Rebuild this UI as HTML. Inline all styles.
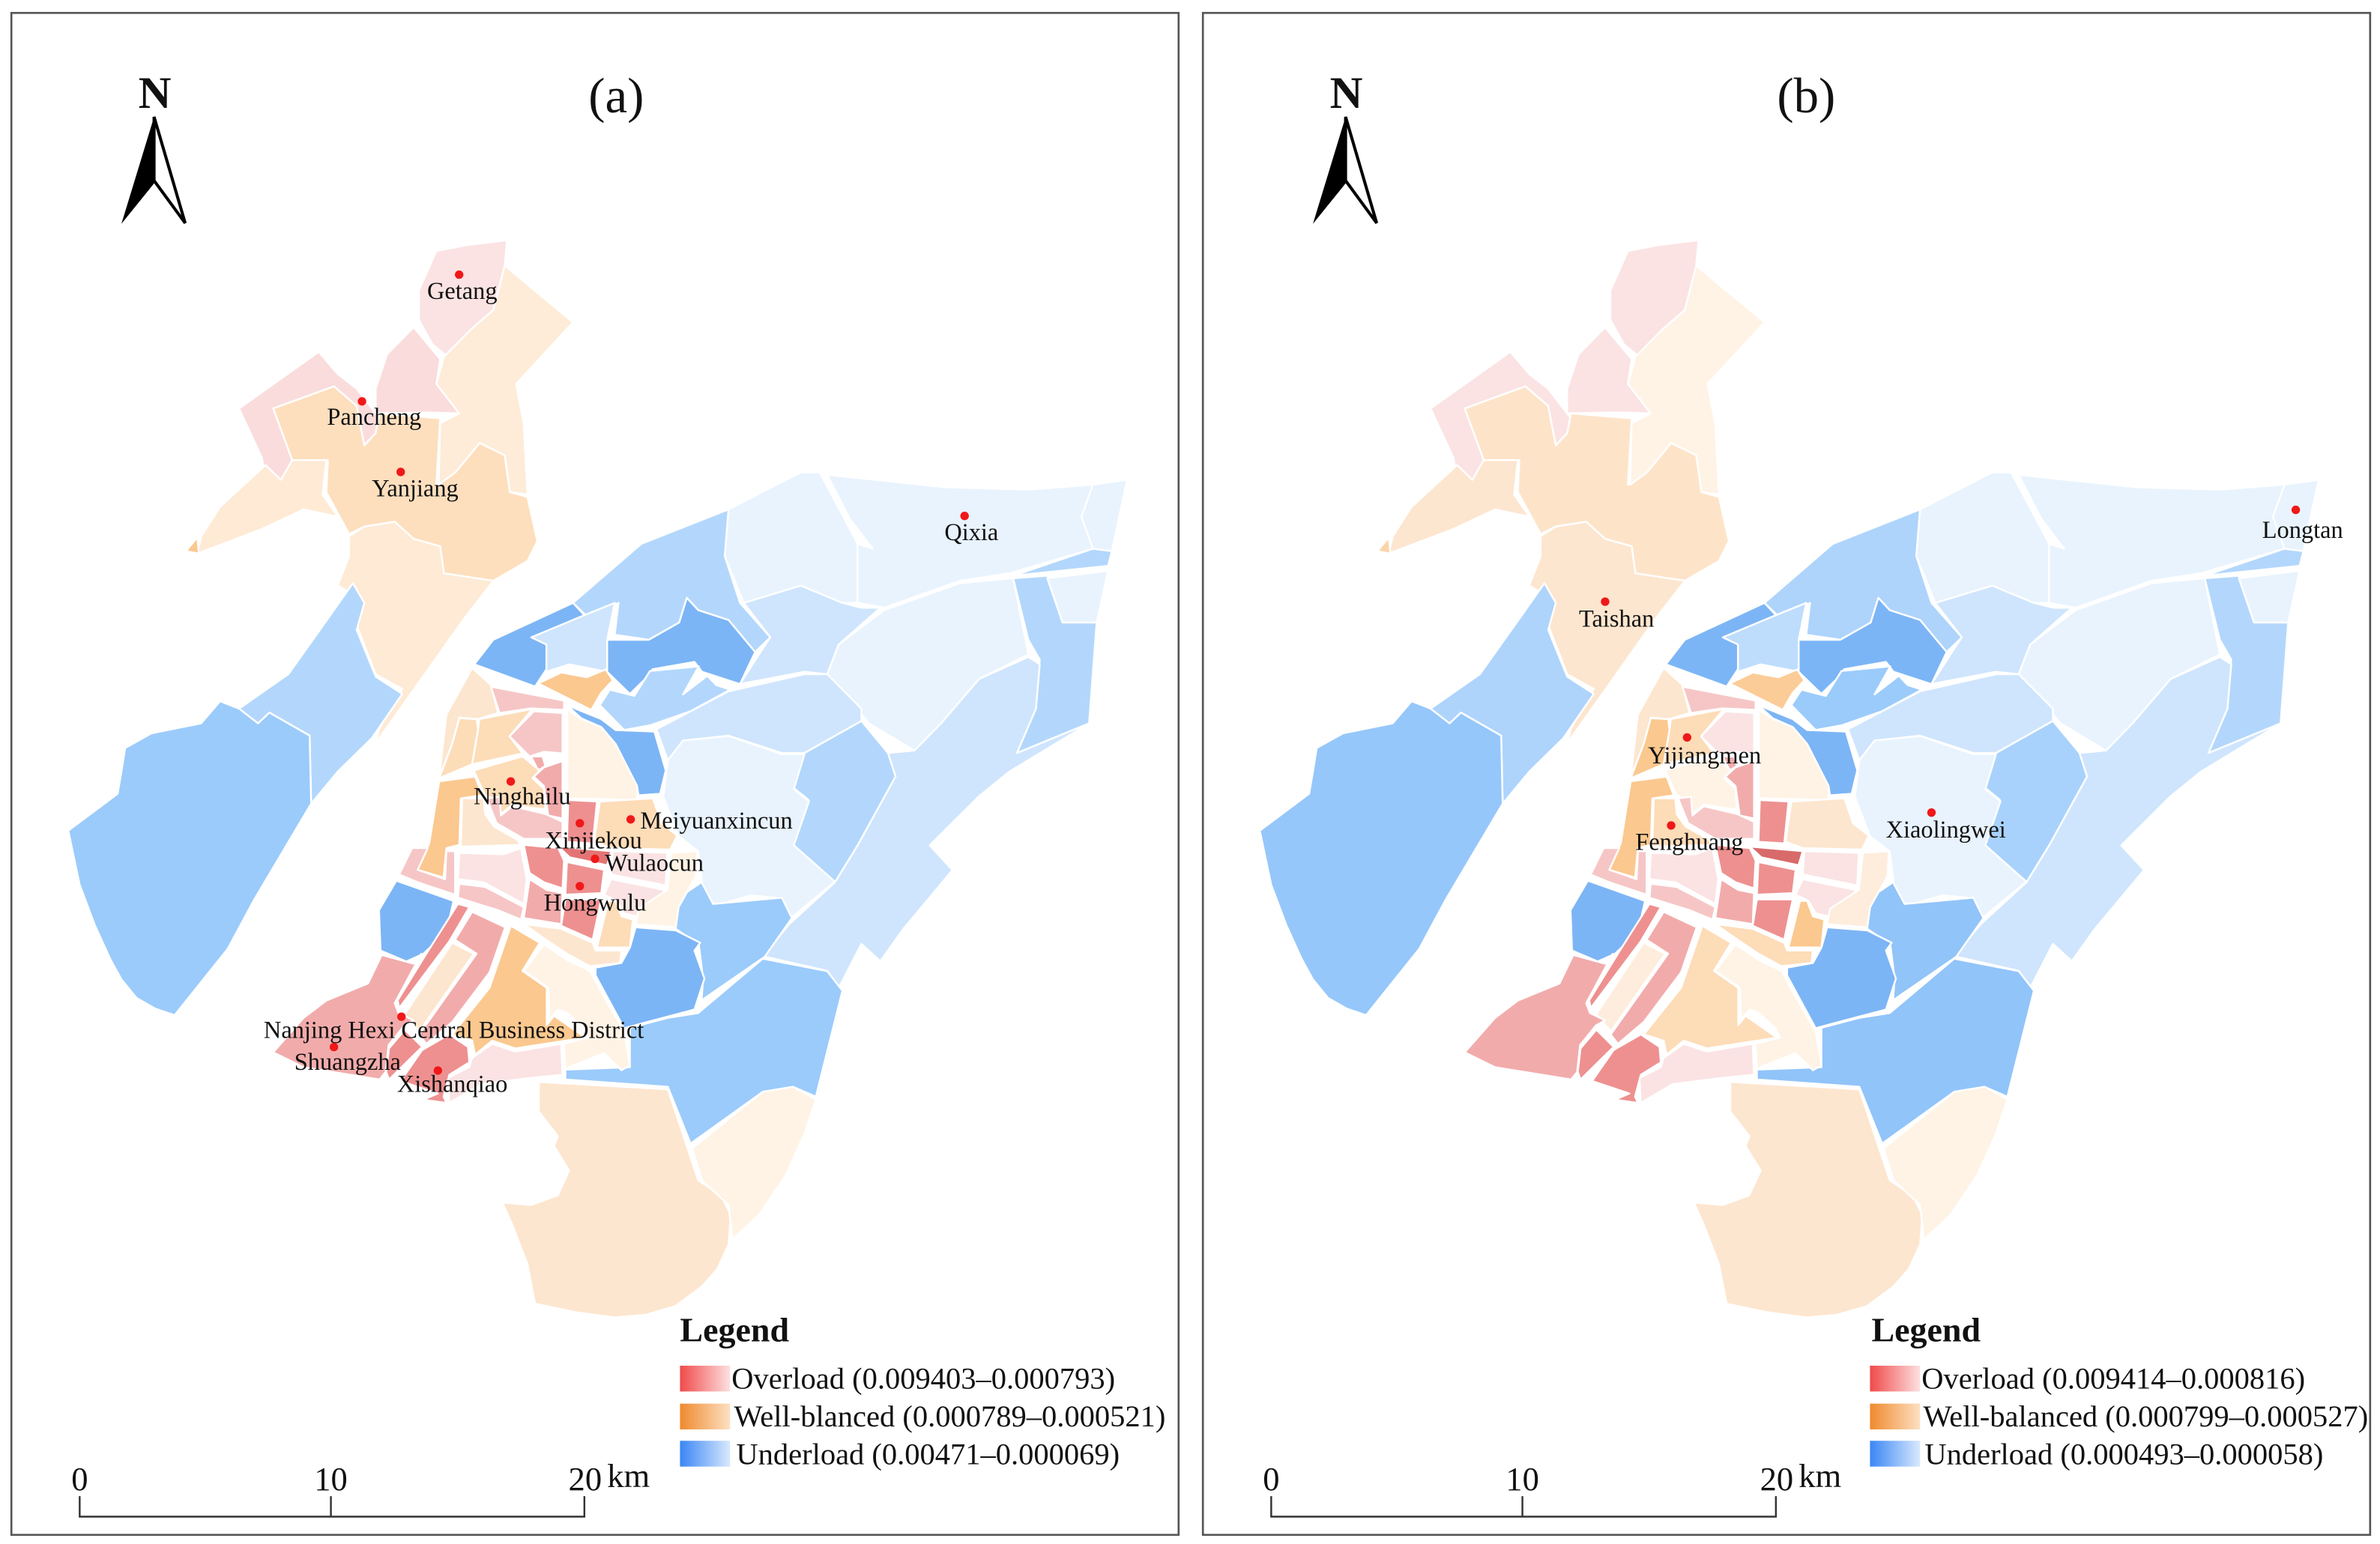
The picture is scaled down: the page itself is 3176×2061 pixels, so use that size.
<!DOCTYPE html>
<html lang="en">
<head>
<meta charset="utf-8">
<title>Load balance maps (a) and (b)</title>
<style>
html,body{margin:0;padding:0;background:#fff;width:3176px;height:2061px;overflow:hidden}
svg{display:block}
text{font-family:"Liberation Serif","DejaVu Serif",serif;fill:#111}
.leg{font-size:20px}
.scale{font-size:22px}
</style>
</head>
<body>
<svg xmlns="http://www.w3.org/2000/svg" width="3176" height="2061" viewBox="0 0 1568 1017.5">
<defs>
<linearGradient id="gr"><stop offset="0" stop-color="#f04a4a"/><stop offset="1" stop-color="#fde0e0"/></linearGradient>
<linearGradient id="go"><stop offset="0" stop-color="#ef8a2e"/><stop offset="1" stop-color="#fde0c2"/></linearGradient>
<linearGradient id="gb"><stop offset="0" stop-color="#3a86f5"/><stop offset="1" stop-color="#d8e9fd"/></linearGradient>
</defs>
<rect x="7.5" y="8.5" width="769" height="1003" fill="none" stroke="#555" stroke-width="1.3"/>
<rect x="792.5" y="8.5" width="769" height="1003" fill="none" stroke="#555" stroke-width="1.3"/>

<g id="map-a"></g>
<g id="map-b" transform="translate(785,0)"></g>

<!-- Panel A furniture -->
<g>
<text x="406" y="74" text-anchor="middle" font-size="33">(a)</text>
<g>
<text x="102" y="71" text-anchor="middle" font-size="30" font-weight="bold">N</text>
<polygon points="101.5,77 80,147.5 103,119" fill="#000"/>
<polygon points="101.5,77 122,147 101.5,119" fill="#fff" stroke="#000" stroke-width="2"/>
</g>
<g font-size="16" text-anchor="middle">
<g fill="#f01818" stroke="none">
<circle cx="302.5" cy="181" r="2.8"/>
<circle cx="238.5" cy="264.5" r="2.8"/>
<circle cx="264" cy="311" r="2.8"/>
<circle cx="635.5" cy="340" r="2.8"/>
<circle cx="336.5" cy="515" r="2.8"/>
<circle cx="415.5" cy="540" r="2.8"/>
<circle cx="382" cy="542.5" r="2.8"/>
<circle cx="392" cy="566" r="2.8"/>
<circle cx="382" cy="584" r="2.8"/>
<circle cx="264.5" cy="670" r="2.8"/>
<circle cx="220" cy="690" r="2.8"/>
<circle cx="288.5" cy="705.5" r="2.8"/>
</g>
<text x="304.5" y="197">Getang</text>
<text x="246.5" y="280">Pancheng</text>
<text x="273.5" y="327">Yanjiang</text>
<text x="640" y="356">Qixia</text>
<text x="344" y="530">Ninghailu</text>
<text x="472" y="546">Meiyuanxincun</text>
<text x="391" y="559">Xinjiekou</text>
<text x="431" y="574">Wulaocun</text>
<text x="392" y="600">Hongwulu</text>
<text x="299" y="684">Nanjing Hexi Central Business District</text>
<text x="229" y="705">Shuangzha</text>
<text x="298" y="719.5">Xishanqiao</text>
</g>
<g>
<text x="448" y="884" font-size="22.7" font-weight="bold">Legend</text>
<rect x="448" y="900" width="33" height="17" fill="url(#gr)"/>
<rect x="448" y="925" width="33" height="17" fill="url(#go)"/>
<rect x="448" y="949.5" width="33" height="17" fill="url(#gb)"/>
<text class="leg" x="482" y="915">Overload (0.009403–0.000793)</text>
<text class="leg" x="483.5" y="940">Well-blanced (0.000789–0.000521)</text>
<text class="leg" x="485" y="965">Underload (0.00471–0.000069)</text>
</g>
<g>
<polyline points="52.5,986 52.5,999.5 385,999.5 385,986" fill="none" stroke="#333" stroke-width="1.2"/>
<line x1="218" y1="986" x2="218" y2="999.5" stroke="#333" stroke-width="1.2"/>
<text class="scale" x="52.5" y="982" text-anchor="middle">0</text>
<text class="scale" x="218" y="982" text-anchor="middle">10</text>
<text class="scale" x="385.5" y="982" text-anchor="middle">20</text>
<text class="scale" x="400" y="980">km</text>
</g>
</g>

<!-- Panel B furniture -->
<g>
<text x="1190" y="74" text-anchor="middle" font-size="33">(b)</text>
<g transform="translate(785,0)">
<text x="102" y="71" text-anchor="middle" font-size="30" font-weight="bold">N</text>
<polygon points="101.5,77 80,147.5 103,119" fill="#000"/>
<polygon points="101.5,77 122,147 101.5,119" fill="#fff" stroke="#000" stroke-width="2"/>
</g>
<g font-size="16" text-anchor="middle">
<g fill="#f01818">
<circle cx="1512.5" cy="336" r="2.8"/>
<circle cx="1057.5" cy="396.5" r="2.8"/>
<circle cx="1111.5" cy="486" r="2.8"/>
<circle cx="1101" cy="544" r="2.8"/>
<circle cx="1272.5" cy="535.5" r="2.8"/>
</g>
<text x="1517" y="354.5">Longtan</text>
<text x="1065" y="413">Taishan</text>
<text x="1123" y="503">Yijiangmen</text>
<text x="1113" y="560">Fenghuang</text>
<text x="1282" y="552">Xiaolingwei</text>
</g>
<g>
<text x="1233" y="884" font-size="22.7" font-weight="bold">Legend</text>
<rect x="1232" y="900" width="33" height="17" fill="url(#gr)"/>
<rect x="1232" y="925" width="33" height="17" fill="url(#go)"/>
<rect x="1232" y="949.5" width="33" height="17" fill="url(#gb)"/>
<text class="leg" x="1266" y="915">Overload (0.009414–0.000816)</text>
<text class="leg" x="1267" y="940">Well-balanced (0.000799–0.000527)</text>
<text class="leg" x="1268" y="965">Underload (0.000493–0.000058)</text>
</g>
<g transform="translate(785,0)">
<polyline points="52.5,986 52.5,999.5 385,999.5 385,986" fill="none" stroke="#333" stroke-width="1.2"/>
<line x1="218" y1="986" x2="218" y2="999.5" stroke="#333" stroke-width="1.2"/>
<text class="scale" x="52.5" y="982" text-anchor="middle">0</text>
<text class="scale" x="218" y="982" text-anchor="middle">10</text>
<text class="scale" x="385.5" y="982" text-anchor="middle">20</text>
<text class="scale" x="400" y="980">km</text>
</g>
</g>
</svg>

<script>
// Region identifiers, in drawing order.
const regionNames = [
"getang","north-central","pancheng-strip","yanjiang","north-east","north-west","north-tip","taishan-south",
"west-strip","west-bank","north-blue","dark-basin","river-dark","small-blue","north-orange","below-basin",
"middle-blue","top-light","qixia","thin-strip","east-column","east-tiny","east-light","east-long",
"east-inner","north-xiaoling","xiaolingwei","river-strip","south-mid-blue","south-dark-blue","south-big-blue",
"south-big-orange","south-side-orange",
"c-nw","c-pink-top","c-narrow","c-yijiangmen","c-upper-pink","c-small-red","c-small-red-2","c-ninghailu","c-sw",
"c-fenghuang","c-pink-mid","c-north-centre","c-xinjiekou","c-meiyuan","c-wedge","c-west-red","c-pale",
"c-pink-left","c-pink-band","c-blue-west","c-red-a","c-red-b","c-red-c","c-pale-e1","c-pale-e2","c-east",
"c-small-orange","c-thin-orange","c-big-orange","c-light-south","c-pale-south","c-diag-red","c-diag-inner","c-diag-wide",
"shuangzha","s-lower","xishanqiao","longtan-east"
];

// Estimated load per region: panel (a).
const valuesA = [
.0008,.0009,.0009,.00066,.00057,.00058,.00078,.00058,
.00022,.00013,.00022,.00007,.00007,.00032,.00078,.00022,
.00032,.00047,.00047,.00022,.00022,.00047,.00047,.00032,
.00022,.00032,.00047,.00007,.00013,.00007,.00013,
.0006,.00053,
.0006,.0012,.00068,.00068,.0012,.002,.002,.00068,.00078,
.0006,.0012,.00053,.0035,.00068,.006,.0035,.0008,
.0012,.0012,.00007,.002,.0035,.0035,.0008,.0008,.00053,
.00068,.0006,.00078,.00053,.0008,.0035,.0006,.002,
.002,.0035,.0035,.00047
];

// Estimated load per region: panel (b).
const valuesB = [
.0008,.0008,.0008,.00062,.00053,.0006,.00072,.0006,
.0002,.00012,.0002,.00007,.00007,.00026,.00076,.00013,
.00032,.00047,.00047,.00022,.00022,.00047,.00047,.00032,
.00018,.00032,.00047,.00007,.00011,.00007,.00011,
.0006,.00053,
.0006,.0012,.00078,.00068,.0008,.002,.002,.00053,.00078,
.00068,.0012,.00053,.0035,.0006,.0094,.0035,.0008,
.0012,.0012,.00007,.002,.0035,.0035,.0008,.0008,.00056,
.00078,.00068,.00068,.00053,.0008,.0035,.00056,.002,
.002,.0035,.0035,.00047
];

// Geometry: [frame, points]. Frames are tracing grids (see frames below).
const regionShapes = [
["a","575,510 615,498 668,488 665,540 650,630 620,670 590,725 570,700 552,650 552,590"],
["a","545,665 580,730 575,780 605,840 560,838 495,840 495,790 510,720"],
["a","315,830 420,715 445,760 470,790 500,850 495,880 480,905 470,860 440,785 360,830 390,930 370,975 350,970 345,930"],
["a","440,785 470,825 480,905 495,880 500,840 580,850 575,985 600,960 632,900 665,925 672,1000 695,1010 708,1100 695,1140 650,1180 580,1165 580,1110 545,1095 520,1060 480,1070 460,1085 430,1000 432,935 385,935 360,830"],
["a","665,540 755,655 680,780 690,860 695,1005 672,1000 665,925 632,900 600,960 578,985 580,860 605,840 575,780 585,725 620,670 650,630"],
["a","350,945 370,975 385,935 430,935 425,1005 445,1050 400,1035 345,1075 260,1125 265,1090 290,1030"],
["a","245,1120 260,1092 262,1125"],
["a","460,1090 480,1070 520,1060 545,1095 580,1110 585,1165 650,1180 610,1260 555,1380 495,1510 500,1480 530,1400 495,1370 470,1270 478,1220 445,1190 460,1130"],

["a","465,1185 480,1225 470,1280 495,1375 530,1410 490,1500 445,1568 410,1633 408,1495 355,1448 340,1470 315,1440 380,1370 440,1240"],
["a","160,1568 165,1520 200,1490 265,1470 290,1425 315,1440 340,1470 355,1448 408,1495 410,1633 335,1828 300,1928 230,2063 205,2050 180,2028 160,1990 145,1948 125,1880 105,1798 90,1688 155,1613"],
["a","755,1225 845,1105 960,1035 955,1130 975,1225 1015,1295 995,1325 960,1260 920,1240 905,1215 895,1265 855,1300 810,1290 815,1225 775,1255"],
["a","905,1215 920,1240 960,1260 995,1325 975,1390 925,1365 915,1345 860,1360 850,1380 830,1410 800,1365 800,1300 855,1300 895,1265"],
["a","755,1225 770,1250 720,1310 720,1360 705,1395 625,1350 650,1300"],
["a","770,1250 810,1225 800,1300 800,1365 750,1350 720,1365 720,1310 700,1295"],
["c","570,150 650,115 740,130 805,105 830,140 790,180 755,235"],
["c","785,220 820,170 905,190 960,110 1130,95 1075,185 1160,125 1190,155 1240,170 1100,240 960,285 870,300"],
["a","980,1225 1055,1190 1110,1225 1135,1235 1160,1235 1105,1310 1090,1370 1060,1365 975,1390 1000,1330 1015,1295"],
["a","960,1035 1055,960 1080,960 1130,1105 1130,1225 1110,1225 1055,1190 980,1225 955,1130"],
["a","1090,965 1245,990 1355,995 1440,985 1440,1115 1330,1165 1265,1180 1165,1235 1130,1225 1130,1105 1150,1115 1120,1055"],
["a","1440,1115 1465,1120 1460,1150 1335,1170"],
["a","1335,1175 1380,1170 1400,1265 1445,1265 1435,1470 1340,1530 1365,1440 1370,1340 1355,1300"],
["a","1380,1175 1460,1160 1445,1265 1400,1265"],
["a","1265,1185 1335,1175 1355,1330 1290,1380 1240,1470 1205,1525 1145,1470 1090,1370 1105,1310 1165,1240"],
["a","1205,1525 1240,1470 1290,1380 1355,1335 1370,1350 1365,1440 1340,1530 1435,1470 1330,1568 1290,1618 1225,1718 1255,1768 1190,1888 1160,1953 1135,1918 1105,2008 1090,1973 1005,1943 1040,1878 1100,1793 1130,1718 1180,1578 1170,1530"],
["a","1135,1465 1170,1530 1180,1578 1130,1718 1100,1793 1045,1718 1065,1625 1045,1600 1060,1530"],
["a","865,1482 960,1405 1060,1370 1090,1370 1135,1440 1135,1465 1060,1530 1030,1530 960,1495 900,1505 880,1545"],
["o","440,501 450,488 480,485 515,497 530,497 523,520 533,528 523,557 550,581 521,605 515,592 495,590 470,597 463,585 460,561 447,551 437,525"],
["c","670,220 790,265 840,300 975,305 1015,430 995,505 920,510 915,480 840,345 790,290 720,262"],
["c","1060,840 1140,790 1180,860 1420,840 1455,905 1360,1030 1140,1170 1145,1100 1130,990 1050,940"],
["c","910,935 1050,945 1135,985 1115,1010 1150,1100 1115,1200 950,1240 870,1260 770,1090 770,1065 860,1050 890,1000"],
["b","1005,380 1090,405 1110,445 1075,660 1045,640 1005,650 910,755 880,640 745,625 745,605 830,600 830,520 880,500 920,490"],
["b","710,630 880,645 920,830 950,860 963,900 960,960 945,1010 925,1045 890,1085 850,1103 810,1108 760,1098 705,1080 695,1000 675,920 662,875 700,880 735,860 750,810 730,760 735,740 710,690"],
["b","1075,665 1045,640 1005,650 912,765 925,830 960,880 965,950 1000,900 1035,820 1060,735"],

["c","340,100 405,155 430,245 360,265 295,260 270,345 225,450 250,250"],
["c","405,160 660,205 660,235 545,230 435,245"],
["c","295,262 355,265 360,300 340,410 225,455 270,345"],
["c","365,265 550,232 470,320 515,375 340,410 360,300"],
["c","555,240 655,245 655,375 590,370 540,385 470,320"],
["c","555,450 590,420 655,400 655,585 605,575 590,480"],
["c","545,385 585,385 595,415 570,430"],
["c","345,430 515,385 575,430 550,455 590,490 595,555 545,550 480,540 440,570 430,530 385,510"],
["c","225,465 350,450 375,510 300,520 295,670 250,680 240,775 150,750 190,665"],
["c","305,520 380,520 385,570 415,610 500,655 505,670 300,675"],
["c","390,520 435,515 440,575 480,545 595,570 655,595 655,650 520,650 425,600"],
["c","672,235 720,265 790,290 840,345 915,480 915,525 672,520"],
["c","675,525 775,530 760,665 670,660"],
["c","785,530 970,520 1000,600 1055,640 1030,685 825,680 765,660"],
["c","640,675 825,690 810,735 680,710"],
["c","520,670 640,680 660,720 655,810 590,790 540,760"],
["c","295,695 450,700 510,680 530,780 520,860 460,830 380,790 290,780"],
["c","130,680 185,680 150,750 245,780 250,690 280,690 280,830 150,790 85,765"],
["c","295,795 385,805 520,870 510,910 430,880 290,840"],
["c","75,785 275,850 250,950 170,1020 110,1045 20,1010 15,880"],
["c","540,780 600,815 655,825 650,925 520,905"],
["c","670,725 800,750 790,825 665,830"],
["c","665,845 790,845 760,975 650,930"],
["c","830,690 1020,695 1015,800 825,765"],
["c","825,780 1010,815 1000,830 915,900 870,890 845,850 800,830"],
["c","1035,695 1125,690 1120,770 1060,870 1050,935 910,925 920,875 1020,815"],
["c","815,850 840,850 860,900 900,910 890,1000 775,1000"],
["c","520,925 650,940 760,985 770,1010 860,1010 855,1050 750,1060 670,1020 590,970"],
["c","475,930 575,985 515,1075 600,1130 600,1250 625,1220 735,1290 490,1325 410,1300 350,1345 340,1300 270,1280 400,1130"],
["c","590,990 670,1040 750,1075 800,1160 870,1270 890,1380 860,1395 800,1340 665,1390 660,1310 745,1290 730,1260 670,1210 640,1200 610,1230 605,1130 520,1075"],
["c","340,1355 410,1310 490,1335 650,1310 655,1410 540,1420 370,1440 260,1500 255,1420 330,1385"],
["c","290,860 330,870 260,980 85,1195 80,1170 180,1020"],
["c","270,985 345,1020 155,1270 105,1215"],
["c","340,885 455,935 400,1080 270,1240 180,1310 155,1280 355,1020 280,975"],
["b","360,570 400,500 430,465 485,430 503,372 545,390 555,370 520,470 525,490 545,505 533,515 512,555 508,610 500,625 400,600"],
["c","105,1265 165,1320 50,1425 40,1400 50,1325"],
["c","260,1280 325,1320 330,1370 260,1410 240,1480 250,1500 170,1490 220,1470 90,1430 165,1330"],
["a","1440,985 1485,975 1465,1120 1440,1115 1425,1050"]
];

// Tracing grids mapped to the figure's coordinate system.
const frames = {
  a: function (x, y) { return [x * 0.5, y * 0.3243]; },
  b: function (x, y) { return [x * 0.5, 508.5 + y * 0.3246]; },
  c: function (x, y) { return [246.9 + x * 0.1889, 419.7 + y * 0.2047]; },
  o: function (x, y) { return [x, y]; }
};

// Colour scale: load value to fill.
const scaleStops = [
  [.00007, [124,181,245]], [.00013, [155,203,251]], [.00022, [179,215,252]], [.00032, [207,229,253]], [.00047, [232,243,254]],
  [.00053, [255,243,229]], [.0006, [253,230,207]], [.00068, [253,220,184]], [.00078, [251,200,143]],
  [.0008, [251,227,227]], [.0012, [246,198,198]], [.002, [242,171,171]], [.0035, [238,144,144]], [.006, [228,116,116]], [.0094, [216,106,106]]
];

function loadColor(v) {
  if (v <= scaleStops[0][0]) return 'rgb(' + scaleStops[0][1].join(',') + ')';
  for (let i = 1; i < scaleStops.length; i++) {
    if (v <= scaleStops[i][0]) {
      const lo = scaleStops[i - 1], hi = scaleStops[i];
      const t = (v - lo[0]) / (hi[0] - lo[0]);
      const c = lo[1].map(function (ch, k) { return Math.round(ch + (hi[1][k] - ch) * t); });
      return 'rgb(' + c.join(',') + ')';
    }
  }
  return 'rgb(' + scaleStops[scaleStops.length - 1][1].join(',') + ')';
}

function project(shape) {
  const fn = frames[shape[0]];
  return shape[1].split(' ').map(function (p) {
    const xy = p.split(',');
    const out = fn(+xy[0], +xy[1]);
    return out[0].toFixed(1) + ',' + out[1].toFixed(1);
  }).join(' ');
}

function drawMap(groupId, values, suffix) {
  const group = document.getElementById(groupId);
  regionNames.forEach(function (name, i) {
    const poly = document.createElementNS('http://www.w3.org/2000/svg', 'polygon');
    poly.setAttribute('points', project(regionShapes[i]));
    poly.setAttribute('fill', loadColor(values[i]));
    poly.setAttribute('stroke', '#ffffff');
    poly.setAttribute('stroke-width', '1.2');
    poly.setAttribute('stroke-linejoin', 'round');
    
    
    group.appendChild(poly);
  });
}

drawMap('map-a', valuesA, '-a');
drawMap('map-b', valuesB, '-b');
</script>
</body>
</html>
